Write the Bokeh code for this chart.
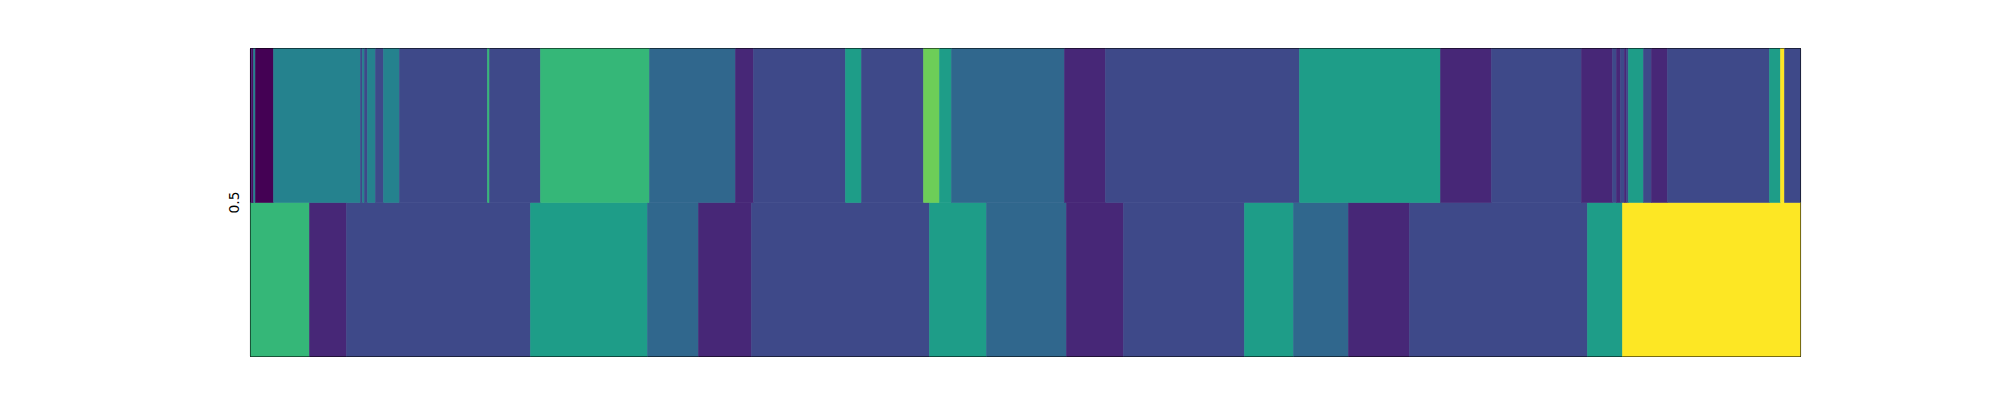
from bokeh.plotting import figure
from bokeh.models import Range1d, FixedTicker, ColumnDataSource, LinearColorMapper
from bokeh.palettes import Viridis256
from bokeh.embed import file_html
from bokeh.resources import INLINE

# Segment edges (position units) and state values for each row
top_edges = [0, 1, 2, 3, 5, 23, 110, 112, 114, 117, 125, 133, 149, 237, 239, 290, 399, 485,
             503, 595, 611, 673, 689, 701, 814, 855, 1049, 1190, 1241, 1331, 1362, 1366,
             1370, 1374, 1376, 1378, 1393, 1401, 1417, 1519, 1530, 1534, 1550]
top_values = [0, 1, 0, 4, 0, 4, 2, 4, 2, 4, 2, 4, 2, 6, 2, 6, 3, 1, 2, 5, 2, 7, 5, 3, 1, 2,
              5, 1, 2, 1, 2, 1, 2, 1, 2, 5, 2, 1, 2, 5, 9, 2]

bottom_edges = [0, 59, 96, 280, 397, 448, 501, 679, 736, 816, 873, 994, 1043, 1098, 1159,
                1337, 1372, 1550]
bottom_values = [6, 1, 2, 5, 3, 1, 2, 5, 3, 1, 2, 5, 3, 1, 2, 5, 9]

row_bounds = {"bottom": (0.0, 0.5), "top": (0.5, 1.0)}
y_ticks = [0.5]
value_low, value_high = 0, 9

left, right, bot, top, val = [], [], [], [], []
for edges, values, key in ((bottom_edges, bottom_values, "bottom"), (top_edges, top_values, "top")):
    for i, v in enumerate(values):
        left.append(edges[i])
        right.append(edges[i + 1])
        bot.append(row_bounds[key][0])
        top.append(row_bounds[key][1])
        val.append(v)

src = ColumnDataSource(dict(left=left, right=right, bottom=bot, top=top, value=val))
mapper = LinearColorMapper(palette=Viridis256, low=value_low, high=value_high)

p = figure(frame_width=1550, frame_height=308, output_backend="svg", toolbar_location=None,
           x_range=Range1d(top_edges[0], top_edges[-1]), y_range=Range1d(0, 1),
           x_axis_location=None, min_border_left=250, min_border_right=184,
           min_border_top=48, min_border_bottom=28)

p.quad(left="left", right="right", bottom="bottom", top="top", source=src,
       fill_color={"field": "value", "transform": mapper},
       line_color={"field": "value", "transform": mapper}, line_width=0.6)

p.grid.visible = False
p.outline_line_color = "black"
p.outline_line_width = 1.1
p.outline_line_alpha = 1.0
p.background_fill_color = "white"
p.border_fill_color = "white"

ya = p.yaxis[0]
ya.ticker = FixedTicker(ticks=y_ticks)
ya.axis_line_color = None
ya.major_tick_line_color = None
ya.minor_tick_line_color = None
ya.major_label_orientation = "vertical"
ya.major_label_standoff = 6
ya.major_label_text_font = "DejaVu Sans"
ya.major_label_text_font_size = "13.9px"
ya.major_label_text_color = "black"

open("out.html", "w").write(file_html(p, INLINE))
